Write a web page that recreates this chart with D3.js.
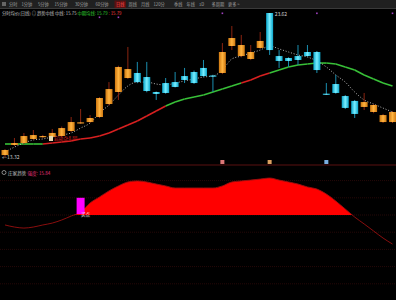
<!DOCTYPE html>
<html><head>
<meta charset="utf-8">
<style>
body { margin: 0; background: #000; }
svg { display: block; }
text { font-family: "Noto Sans CJK SC", "Noto Sans", sans-serif; }
</style>
</head>
<body>
<svg width="396" height="300"></svg>
<script src="https://d3js.org/d3.v7.min.js"></script>
<script>

// --- data ---
var opens  = [13.46,14.18,14.32,14.61,14.75,14.75,14.82,15.18,15.75,15.82,16.18,17.11,17.97,18.97,19.33,19.04,17.97,18.61,18.68,19.11,19.40,19.69,19.15,19.33,21.26,20.54,20.33,21.12,23.62,20.54,20.40,20.54,20.83,20.83,17.85,18.54,17.68,17.33,16.90,16.54,15.82,15.82];
var closes = [13.82,14.32,14.82,14.89,14.82,15.04,15.39,15.82,15.80,16.11,17.54,18.18,19.76,19.61,18.68,18.04,17.83,17.90,18.33,18.83,18.61,19.11,19.11,20.83,21.83,21.33,20.83,21.62,20.97,20.19,20.19,20.26,20.54,19.54,17.83,17.90,16.83,16.40,17.25,17.04,16.32,16.54];
var highs  = [13.89,14.68,15.04,15.25,14.90,15.32,15.50,16.18,16.75,16.32,17.60,18.68,19.85,21.19,20.12,20.12,18.00,18.97,19.40,19.69,19.50,20.26,19.20,21.47,22.69,22.05,21.33,22.26,23.62,20.97,20.45,21.33,21.33,20.90,18.61,19.19,17.75,17.40,17.90,17.10,16.40,16.60];
var lows   = [13.32,14.11,14.25,14.53,14.68,14.68,14.75,15.10,15.70,15.75,16.10,17.00,17.40,18.90,18.60,17.95,17.40,17.85,18.30,18.61,18.55,19.05,17.97,19.25,20.97,20.45,20.25,21.05,20.62,19.69,19.76,19.90,20.50,19.33,17.80,17.85,16.75,16.11,16.68,16.45,15.75,15.75];

var maShort = [13.68,14.03,14.32,14.54,14.61,14.75,14.89,15.04,15.39,15.75,16.47,17.04,17.75,18.40,18.68,18.68,18.54,18.47,18.61,18.76,18.90,19.04,19.11,19.54,20.33,20.54,20.76,20.97,21.26,21.05,20.83,20.62,20.47,20.19,19.76,19.19,18.68,17.97,17.40,17.11,16.82,16.54];
var maLong  = [14.25,14.25,14.25,14.25,14.25,14.32,14.39,14.46,14.61,14.68,14.82,15.04,15.32,15.61,15.90,16.25,16.61,16.97,17.25,17.47,17.61,17.75,17.97,18.18,18.40,18.61,18.83,19.11,19.33,19.54,19.76,19.90,19.97,20.04,20.04,19.97,19.76,19.54,19.19,18.90,18.61,18.40];
// colour of each maLong segment i -> i+1 : 1 = red, 0 = green
var maLongUp = [0,0,0,0,1,1,1,1,1,1,1,1,1,1,1,1,1,0,0,0,0,0,0,0,0,1,1,1,0,0,0,0,0,0,0,0,0,0,0,0,0];

var trend = [-0.58,-0.70,-0.76,-0.70,-0.58,-0.47,-0.29,-0.06,0.17,0.70,1.05,1.40,1.69,1.92,1.98,1.92,1.80,1.69,1.57,1.57,1.57,1.57,1.57,1.69,1.92,1.98,2.03,2.09,2.15,2.03,1.92,1.80,1.63,1.51,1.22,0.81,0.35,-0.12,-0.52,-0.93,-1.34,-1.69];
var buyIndex = 8, buyValue = 1.0;
var trendTicks = [-4,-3,-2,-1,0,1,2];

var highLabel = "23.62", lowLabel = "←13.32";
var eventIdx = [23, 28, 34], eventColors = ["#d77", "#dba060", "#7aaee0"];
var dotIdx = [10, 12, 23, 33, 41];

var menuItems = ["分时","1分钟","5分钟","15分钟","30分钟","60分钟","日线","周线","月线","120分","季线","年线","1D","多周期","更多 >"];

var svg = d3.select("svg");

var x = d3.scaleLinear().domain([0, 41]).range([5, 392.5]);
var y = d3.scaleLinear().domain([13.32, 23.62]).range([157, 13]);
var yt = d3.scaleLinear().domain([0, 1]).range([215, 197.8]);
var bw = 7;

// gradients for candle bodies
var defs = svg.append("defs");
function grad(id, edge, mid) {
  var g = defs.append("linearGradient").attr("id", id).attr("x1", 0).attr("x2", 1).attr("y1", 0).attr("y2", 0);
  g.append("stop").attr("offset", "0%").attr("stop-color", edge);
  g.append("stop").attr("offset", "50%").attr("stop-color", mid);
  g.append("stop").attr("offset", "100%").attr("stop-color", edge);
}
grad("gUp", "#d07810", "#ffb440");
grad("gDn", "#0aa6cc", "#7aeeff");

defs.append("clipPath").attr("id", "above")
  .append("rect").attr("x", 0).attr("y", 170).attr("width", 396).attr("height", yt(0) - 170);

// menu bar
svg.append("rect").attr("x", 0).attr("y", 0).attr("width", 396).attr("height", 8.5).attr("fill", "#202020");
svg.append("line").attr("x1", 0).attr("x2", 396).attr("y1", 8.5).attr("y2", 8.5).attr("stroke", "#3a3a3a");
var mx = 9;
menuItems.forEach(function(t) {
  var w = t.length * 4 + 4.5;
  if (t === "日线") {
    svg.append("rect").attr("x", mx - 1.5).attr("y", 0.5).attr("width", w - 1).attr("height", 7.5).attr("fill", "#5a1010");
  }
  svg.append("text").attr("x", mx).attr("y", 6).attr("font-size", 4.2).attr("fill", t === "日线" ? "#ff5050" : "#a0a0a0").text(t);
  mx += w;
});
svg.append("rect").attr("x", 2).attr("y", 2).attr("width", 4).attr("height", 4).attr("fill", "#666");

// header line
var hdr = svg.append("text").attr("x", 2).attr("y", 14.5).attr("font-size", 4.3);
hdr.append("tspan").attr("fill", "#c0c0c0").text("分时均价(日线) ◎ 趋势中线 中线: 15.75");
hdr.append("tspan").attr("fill", "#30d030").text(" 中期均线: 15.79");
hdr.append("tspan").attr("fill", "#ff4040").text(" : 15.79");

// small purple markers
svg.append("g").selectAll("rect").data(dotIdx).join("rect")
  .attr("x", function(d) { return x(d) - 0.8; })
  .attr("y", function(d, i) { return i < 2 ? 16.5 : 12.5; })
  .attr("width", 1.6).attr("height", 1.6).attr("fill", "#a040c0");

// long moving average, coloured by segment
var lineGen = d3.line().x(function(d) { return x(d.i); }).y(function(d) { return y(d.v); }).curve(d3.curveMonotoneX);
svg.append("g").selectAll("path").data(maLongUp).join("path")
  .attr("d", function(u, i) {
    return lineGen([{i: i, v: maLong[i]}, {i: i + 1, v: maLong[i + 1]}]);
  })
  .attr("fill", "none").attr("stroke-width", 1.6)
  .attr("stroke", function(u) { return u ? "#d82020" : "#38c038"; });

// short moving average (dotted)
svg.append("path")
  .datum(maShort.map(function(v, i) { return {i: i, v: v}; }))
  .attr("d", lineGen)
  .attr("fill", "none").attr("stroke", "#c8c8c8").attr("stroke-width", 0.9).attr("stroke-dasharray", "1,1.8");

// candles
var candles = svg.append("g").selectAll("g").data(opens).join("g");
candles.append("line")
  .attr("x1", function(d, i) { return x(i); }).attr("x2", function(d, i) { return x(i); })
  .attr("y1", function(d, i) { return y(highs[i]); }).attr("y2", function(d, i) { return y(lows[i]); })
  .attr("stroke", function(d, i) { return closes[i] >= opens[i] ? "#8a2410" : "#1a8fb0"; })
  .attr("stroke-width", 1);
candles.append("rect")
  .attr("x", function(d, i) { return x(i) - bw / 2; })
  .attr("width", bw)
  .attr("y", function(d, i) { return y(Math.max(opens[i], closes[i])); })
  .attr("height", function(d, i) { return Math.max(1.2, Math.abs(y(opens[i]) - y(closes[i]))); })
  .attr("fill", function(d, i) { return closes[i] >= opens[i] ? "url(#gUp)" : "url(#gDn)"; });

// high / low labels
svg.append("text").attr("x", x(28) + 5).attr("y", y(23.62) + 3).attr("font-size", 5).attr("fill", "#d0d0d0").text(highLabel);
svg.append("text").attr("x", 2).attr("y", y(13.32) + 2).attr("font-size", 5).attr("fill", "#d0d0d0").text(lowLabel);

// callout
svg.append("rect").attr("x", 49).attr("y", 136).attr("width", 4).attr("height", 5).attr("fill", "#e8d8b0");
svg.append("text").attr("x", 54).attr("y", 139.5).attr("font-size", 4.5).attr("fill", "#e02020").text("启动点");
svg.append("text").attr("x", 66).attr("y", 139.5).attr("font-size", 4.5).attr("fill", "#e02020").text("+8.88");

// panel separator & event icons
svg.append("line").attr("x1", 0).attr("x2", 396).attr("y1", 165).attr("y2", 165).attr("stroke", "#5a1010");
svg.append("g").selectAll("rect").data(eventIdx).join("rect")
  .attr("x", function(d) { return x(d) - 2; }).attr("y", 160).attr("width", 4).attr("height", 4)
  .attr("fill", function(d, i) { return eventColors[i]; });

// lower panel header
svg.append("circle").attr("cx", 4).attr("cy", 172.5).attr("r", 2).attr("fill", "none").attr("stroke", "#bbb").attr("stroke-width", 0.7);
var h2 = svg.append("text").attr("x", 8).attr("y", 174.5).attr("font-size", 4.6);
h2.append("tspan").attr("fill", "#c0c0c0").text("庄家趋势 ");
h2.append("tspan").attr("fill", "#e0307a").text(" 强度: 15.84");

// lower panel grid
svg.append("g").selectAll("line").data(trendTicks).join("line")
  .attr("x1", 0).attr("x2", 396)
  .attr("y1", function(d) { return yt(d); }).attr("y2", function(d) { return yt(d); })
  .attr("stroke", "#300a0a").attr("stroke-width", 0.8).attr("stroke-dasharray", "1,1");

// trend fill (only above zero)
var tData = trend.map(function(v, i) { return {i: i, v: v}; });
svg.append("path").datum(tData)
  .attr("clip-path", "url(#above)")
  .attr("d", d3.area().x(function(d) { return x(d.i); }).y0(yt(0)).y1(function(d) { return yt(d.v); }).curve(d3.curveMonotoneX))
  .attr("fill", "#ff0000");
svg.append("path").datum(tData)
  .attr("d", d3.line().x(function(d) { return x(d.i); }).y(function(d) { return yt(d.v); }).curve(d3.curveMonotoneX))
  .attr("fill", "none").attr("stroke", "#9a1010").attr("stroke-width", 0.9);

// buy signal
svg.append("rect").attr("x", x(buyIndex) - 4).attr("y", yt(buyValue)).attr("width", 8).attr("height", yt(0) - yt(buyValue) - 1)
  .attr("fill", "#ff00ff");
svg.append("text").attr("x", x(buyIndex) + 0.5).attr("y", yt(0) + 1).attr("font-size", 4.5).attr("fill", "#f0f0f0").text("买点");

</script>
</body></html>
